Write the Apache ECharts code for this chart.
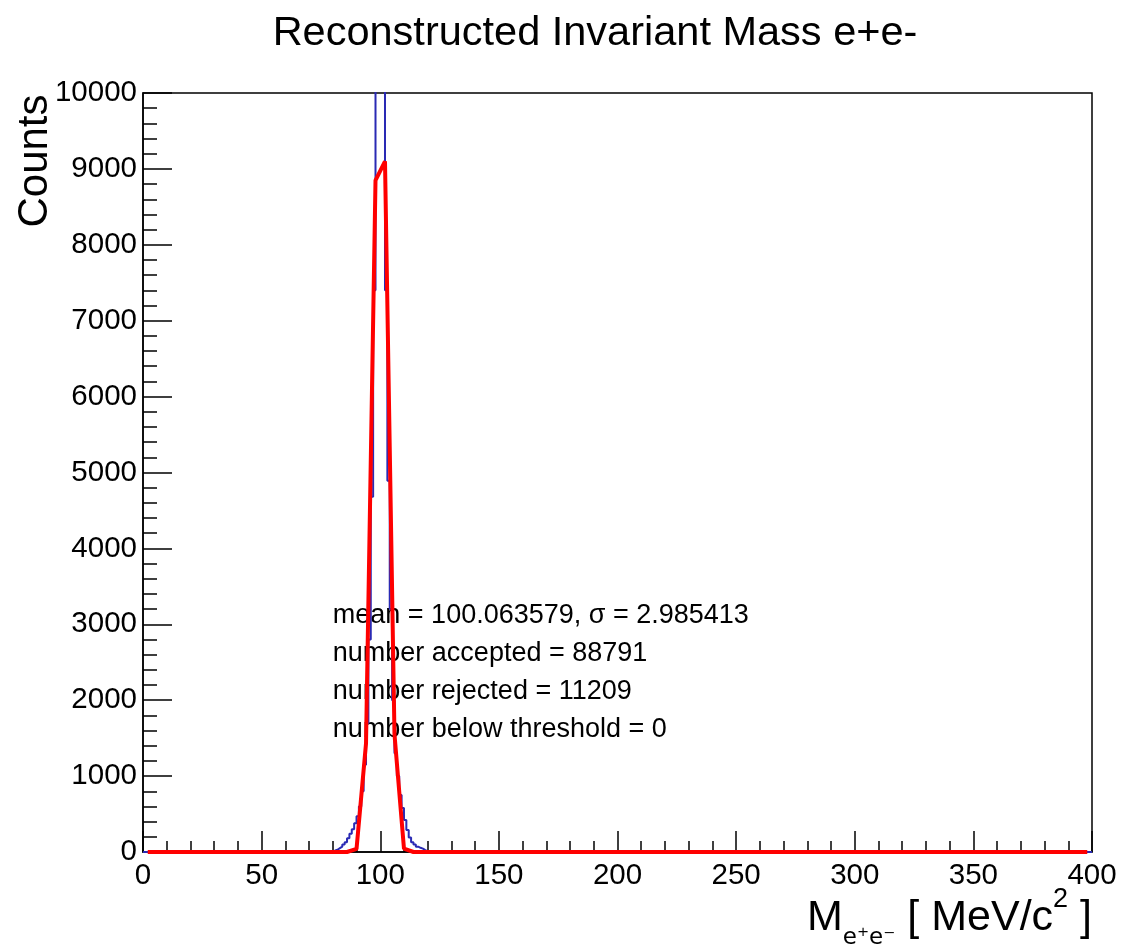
<!DOCTYPE html>
<html><head><meta charset="utf-8">
<script src="https://cdn.jsdelivr.net/npm/echarts@6/dist/echarts.min.js"></script>
<style>html,body{margin:0;padding:0;background:#fff}#c{width:1121px;height:949px}</style>
</head><body><div id="c"></div>
<script>
const FONT = 'Liberation Sans, Arial, Helvetica, sans-serif';

// Blue histogram: lower bin edge (MeV/c^2) and counts per 1 MeV bin
const blueBinLow = [0, 80, 81, 82, 83, 84, 85, 86, 87, 88, 89, 90, 91, 92, 93, 94, 95, 96, 97, 98, 99,
  100, 101, 102, 103, 104, 105, 106, 107, 108, 109, 110, 111, 112, 113, 114, 115, 116, 117, 118, 119, 120, 400];
const blueCounts = [0, 20, 30, 50, 70, 100, 130, 180, 240, 300, 380, 470, 600, 800, 1150, 1700, 2800, 4680, 7400, 10600, 12000,
  12000, 10600, 7400, 4890, 3200, 2000, 1300, 1000, 750, 580, 420, 290, 190, 130, 100, 70, 55, 45, 25, 12, 0, 0];

// Red fit curve sample points
const redX = [2, 86, 90, 94, 98, 102, 106, 110, 114, 398];
const redY = [0, 0, 40, 1430, 8850, 9100, 1550, 45, 0, 0];

// Annotation text placed in data coordinates
const statLines = ['mean = 100.063579, \u03C3 = 2.985413', 'number accepted = 88791', 'number rejected = 11209', 'number below threshold = 0'];
const statY = [3000, 2500, 2000, 1500];
const statX = 80;

const titleText = 'Reconstructed Invariant Mass e+e-';
const yTitle = 'Counts';

const chart = echarts.init(document.getElementById('c'), null, {renderer: 'canvas'});

const blueData = blueBinLow.map((x, i) => [x, blueCounts[i]]);
const redData = redX.map((x, i) => [x, redY[i]]);

const option = {
  animation: false,
  backgroundColor: '#fff',
  grid: {left: 143, right: 29, top: 93, bottom: 97, show: true, borderColor: '#000', borderWidth: 1.5, backgroundColor: 'transparent', outerBoundsMode: 'none'},
  xAxis: {
    type: 'value', min: 0, max: 400, interval: 50,
    axisLine: {show: true, lineStyle: {color: '#000', width: 1.5}},
    axisTick: {show: true, inside: true, length: 21, lineStyle: {color: '#000', width: 1.5}},
    minorTick: {show: true, splitNumber: 5, length: 11, lineStyle: {color: '#000', width: 1.5}},
    splitLine: {show: false},
    axisLabel: {color: '#000', fontSize: 29.5, fontFamily: FONT, margin: 9, formatter: v => String(v)}
  },
  yAxis: {
    type: 'value', min: 0, max: 10000, interval: 1000,
    axisLine: {show: true, lineStyle: {color: '#000', width: 1.5}},
    axisTick: {show: true, inside: true, length: 29, lineStyle: {color: '#000', width: 1.5}},
    minorTick: {show: true, splitNumber: 5, length: 14, lineStyle: {color: '#000', width: 1.5}},
    splitLine: {show: false},
    axisLabel: {color: '#000', fontSize: 29.5, fontFamily: FONT, margin: 6, formatter: v => String(v)}
  },
  series: [
    {type: 'line', data: blueData, step: 'end', symbol: 'none', clip: true,
     lineStyle: {color: '#2a2ab4', width: 2}, z: 2},
    {type: 'line', data: redData, symbol: 'none', clip: true,
     lineStyle: {color: '#ff0000', width: 4}, z: 3}
  ]
};
chart.setOption(option);

const graphics = [
  {type: 'text', x: 595, y: 34, style: {text: titleText, font: '41.5px ' + FONT, fill: '#000', align: 'center', verticalAlign: 'middle'}},
  {type: 'text', x: 35, y: 161, rotation: Math.PI / 2, style: {text: yTitle, font: '42px ' + FONT, fill: '#000', align: 'center', verticalAlign: 'middle'}},
  {type: 'text', x: 1092, y: 918, style: {
    text: '{m|M}{s|e\u207Ae\u207B}{m| [ MeV/c}{p|2}{m| ]}',
    align: 'right', verticalAlign: 'middle', fill: '#000',
    rich: {
      m: {fontSize: 43, fontFamily: FONT, lineHeight: 64, verticalAlign: 'middle', fill: '#000'},
      s: {fontSize: 23, fontFamily: 'DejaVu Sans, ' + FONT, lineHeight: 16, verticalAlign: 'bottom', fill: '#000'},
      p: {fontSize: 27, fontFamily: FONT, lineHeight: 28, verticalAlign: 'top', fill: '#000'}
    }
  }}
];
statLines.forEach((t, i) => {
  const p = chart.convertToPixel({gridIndex: 0}, [statX, statY[i]]);
  graphics.push({type: 'text', x: p[0], y: p[1] - 9, style: {text: t, font: '27px ' + FONT, fill: '#000', align: 'left', verticalAlign: 'middle'}});
});
chart.setOption({graphic: graphics});
</script>
</body></html>
